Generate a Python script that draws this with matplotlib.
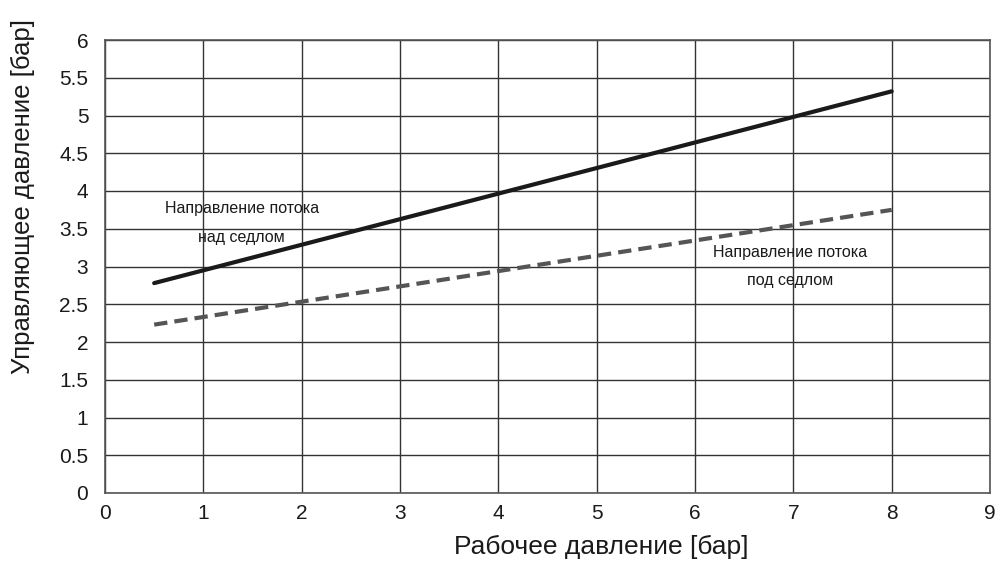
import matplotlib.pyplot as plt
import numpy as np

plt.rcParams['font.family'] = ['Liberation Sans', 'DejaVu Sans']

# lines
x_over = [0.5, 8]
y_over = [2.78, 5.32]     # flow over the seat (solid)
x_under = [0.5, 8]
y_under = [2.23, 3.75]    # flow under the seat (dashed)

xticks = list(range(0, 10))
yticks = [0, 0.5, 1, 1.5, 2, 2.5, 3, 3.5, 4, 4.5, 5, 5.5, 6]
ytick_labels = ['0', '0.5', '1', '1.5', '2', '2.5', '3', '3.5', '4', '4.5', '5', '5.5', '6']

fig = plt.figure(figsize=(9.97, 5.64), dpi=100)
ax = fig.add_axes([105/997, 1 - 493/564, 885/997, 453/564])

ax.plot(x_over, y_over, color='#1a1a1a', lw=3, solid_capstyle='round', zorder=3)
ax.plot(x_under, y_under, color='#555555', lw=3, dashes=(3.2, 1.7), zorder=3)

ax.set_xlim(0, 9)
ax.set_ylim(0, 6)
ax.set_xticks(xticks)
ax.set_yticks(yticks)
ax.set_yticklabels(ytick_labels)
ax.tick_params(length=0, labelsize=15, colors='#1a1a1a')
ax.tick_params(axis='y', pad=12)
ax.tick_params(axis='x', pad=8)
ax.grid(True, color='#333333', lw=1)
ax.set_axisbelow(True)
for s in ax.spines.values():
    s.set_color('#555555')
    s.set_linewidth(1.2)

# labels of the two curves
ax.text(1.39, 3.77, 'Направление потока', ha='center', va='center', fontsize=11.5, color='#1a1a1a')
ax.text(1.39, 3.39, 'над седлом', ha='center', va='center', fontsize=11.5, color='#1a1a1a')
ax.text(6.97, 3.18, 'Направление потока', ha='center', va='center', fontsize=11.5, color='#1a1a1a')
ax.text(6.97, 2.82, 'под седлом', ha='center', va='center', fontsize=11.5, color='#1a1a1a')

# axis titles, y one placed low and long so it nearly reaches the top edge
fig.text(601/997, 1 - 547/564, 'Рабочее давление [бар]', ha='center', va='center', fontsize=19, color='#1a1a1a')
fig.text(23/997, 1 - 374/564, 'Управляющее давление [бар]', rotation=90, ha='center', va='bottom', fontsize=18.5, color='#1a1a1a')

plt.savefig('out.png', dpi=100, facecolor='white')
